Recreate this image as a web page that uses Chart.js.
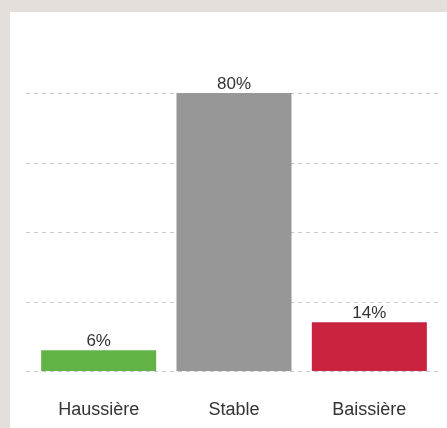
<!DOCTYPE html>
<html>
<head>
<meta charset="utf-8">
<script src="https://cdn.jsdelivr.net/npm/chart.js@4.4.1/dist/chart.umd.min.js"></script>
<style>
  html, body { margin: 0; padding: 0; background: #e4dfda; overflow: hidden; }
  .panel { position: absolute; left: 10px; top: 12px; width: 437px; height: 416px; background: #fff; }
  .panel canvas { display: block; }
</style>
</head>
<body>
<div class="panel"><canvas id="myChart" width="437" height="416"></canvas></div>
<script>
const categories = ["Haussière", "Stable", "Baissière"];
const values = [6, 80, 14];
const barColors = ["#64b347", "#979797", "#c9233f"];
const yTicks = [0, 20, 40, 60, 80];

const font = "'Liberation Sans', Arial, sans-serif";

// lignes de grille pointillées, un peu plus larges que la zone des barres
const dashedGrid = {
  id: "dashedGrid",
  beforeDatasetsDraw(chart) {
    const ctx = chart.ctx;
    const y = chart.scales.y;
    const left = chart.chartArea.left - 5;
    const right = chart.chartArea.right + 3;
    ctx.save();
    ctx.strokeStyle = "#c8c8c8";
    ctx.lineWidth = 1;
    ctx.setLineDash([4, 4]);
    yTicks.forEach(function (v) {
      const py = Math.round(y.getPixelForValue(v)) + 0.5;
      ctx.beginPath();
      ctx.moveTo(left, py);
      ctx.lineTo(right, py);
      ctx.stroke();
    });
    ctx.restore();
  }
};

// valeurs au-dessus des barres
const barLabels = {
  id: "barLabels",
  afterDatasetsDraw(chart) {
    const ctx = chart.ctx;
    const meta = chart.getDatasetMeta(0);
    ctx.save();
    ctx.font = "17px " + font;
    ctx.fillStyle = "#333";
    ctx.textAlign = "center";
    ctx.textBaseline = "alphabetic";
    meta.data.forEach(function (bar, i) {
      ctx.fillText(values[i] + "%", bar.x, bar.y - 4);
    });
    ctx.restore();
  }
};

new Chart("myChart", {
  type: "bar",
  data: {
    labels: categories,
    datasets: [{
      data: values,
      backgroundColor: barColors,
      borderWidth: 0,
      barPercentage: 0.85,
      categoryPercentage: 1
    }]
  },
  options: {
    responsive: false,
    animation: false,
    layout: { padding: { top: 81, left: 21, right: 10, bottom: 0 } },
    plugins: { legend: { display: false }, tooltip: { enabled: false } },
    scales: {
      x: {
        grid: { display: false, drawTicks: false },
        border: { display: false },
        ticks: { color: "#333", font: { family: font, size: 18 }, padding: 28 },
        afterFit(scale) { scale.height = 57; }
      },
      y: {
        min: 0,
        max: 80,
        afterBuildTicks(scale) { scale.ticks = yTicks.map(v => ({ value: v })); },
        ticks: { display: false },
        border: { display: false },
        grid: { display: false, drawTicks: false },
        afterFit(scale) { scale.width = 0; }
      }
    }
  },
  plugins: [dashedGrid, barLabels]
});
</script>
</body>
</html>
